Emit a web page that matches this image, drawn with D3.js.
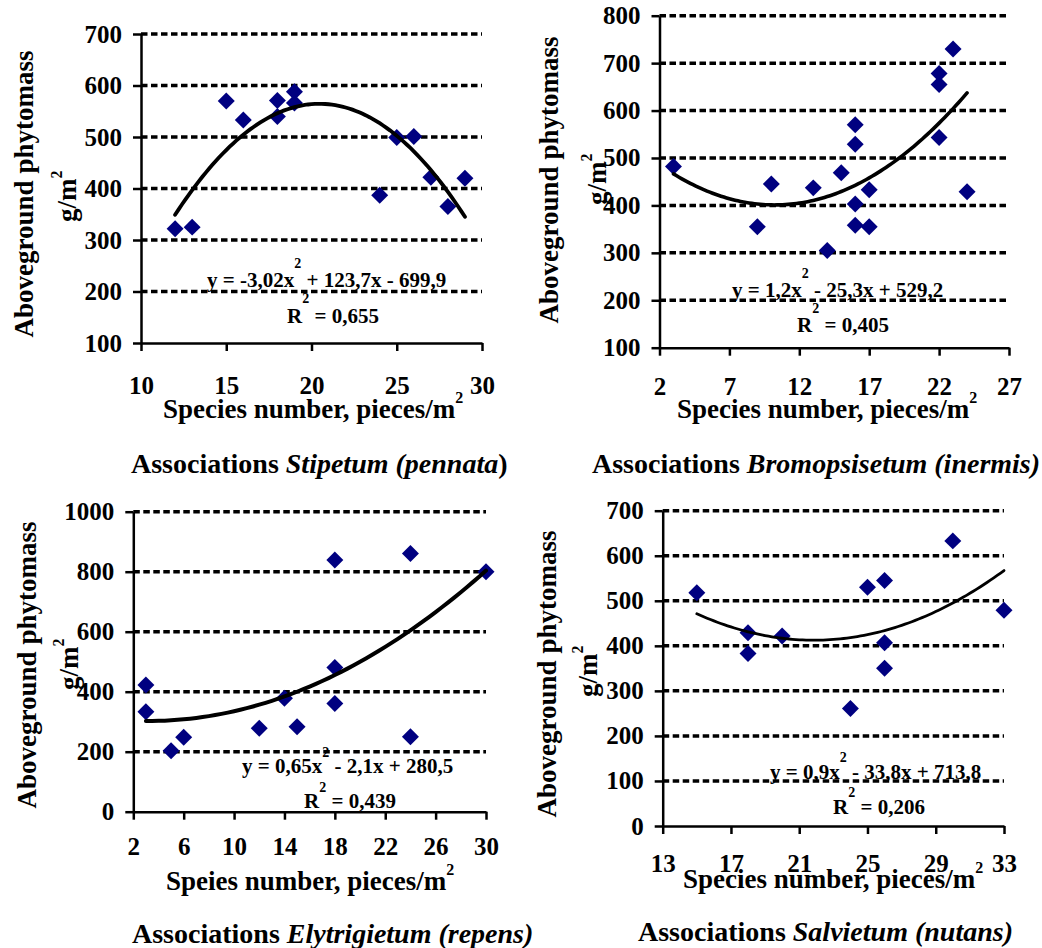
<!DOCTYPE html>
<html>
<head>
<meta charset="utf-8">
<script src="https://cdn.jsdelivr.net/npm/d3@7"></script>
<style>
  body { margin: 0; background: #fff; }
  svg text { font-family: "Liberation Serif", "Tinos", "Times New Roman", "DejaVu Serif", serif !important; font-weight: bold; fill: #000; }
</style>
</head>
<body>
<svg width="1042" height="948"></svg>
<script>
// species number vs aboveground phytomass, four associations
var stipX = [12, 13, 15, 16, 18, 18, 19, 19, 24, 25, 26, 27, 28, 29];
var stipY = [322, 325, 570, 533, 571, 540, 588, 566, 387, 499, 501, 422, 365, 420];

var bromX = [3, 9, 10, 13, 14, 15, 16, 16, 16, 16, 17, 17, 22, 22, 22, 23, 24];
var bromY = [482, 355, 445, 437, 305, 469, 570, 529, 403, 358, 433, 355, 678, 655, 543, 730, 429];

var elyX = [3, 3, 5, 6, 12, 14, 15, 18, 18, 18, 24, 24, 30];
var elyY = [422, 333, 203, 248, 278, 378, 283, 839, 481, 361, 861, 250, 800];

var salvX = [15, 18, 18, 20, 24, 25, 26, 26, 26, 30, 33];
var salvY = [518, 429, 383, 422, 261, 530, 545, 407, 350, 633, 479];

var stipXTicks = [10, 15, 20, 25, 30];
var stipYTicks = [100, 200, 300, 400, 500, 600, 700];
var bromXTicks = [2, 7, 12, 17, 22, 27];
var bromYTicks = [100, 200, 300, 400, 500, 600, 700, 800];
var elyXTicks = [2, 6, 10, 14, 18, 22, 26, 30];
var elyYTicks = [0, 200, 400, 600, 800, 1000];
var salvXTicks = [13, 17, 21, 25, 29, 33];
var salvYTicks = [0, 100, 200, 300, 400, 500, 600, 700];

// equation labels as printed: [before x^2, after x^2], R^2 value
var stipEq = ['y = -3,02x', ' + 123,7x - 699,9'], stipR2 = ' = 0,655';
var bromEq = ['y = 1,2x', ' - 25,3x + 529,2'], bromR2 = ' = 0,405';
var elyEq = ['y = 0,65x', ' - 2,1x + 280,5'], elyR2 = ' = 0,439';
var salvEq = ['y = 0,9x', ' - 33,8x + 713,8'], salvR2 = ' = 0,206';

var titles = [
  ['Associations ', 'Stipetum (pennata', ')'],
  ['Associations ', 'Bromopsisetum (inermis)', ''],
  ['Associations ', 'Elytrigietum (repens)', ''],
  ['Associations ', 'Salvietum (nutans)', '']
];
var xTitles = ['Species number, pieces/m', 'Species number, pieces/m', 'Speies number, pieces/m', 'Species number, pieces/m'];
var yTitle = 'Aboveground phytomass';

var svg = d3.select('svg');

// least squares quadratic, same as the spreadsheet trendline
function quadFit(xs, ys) {
  var s = [0, 0, 0, 0, 0], t = [0, 0, 0];
  xs.forEach(function(x, i) {
    var p = 1;
    for (var k = 0; k < 5; k++) {
      s[k] += p;
      if (k < 3) t[k] += p * ys[i];
      p *= x;
    }
  });
  var m = [[s[0], s[1], s[2], t[0]], [s[1], s[2], s[3], t[1]], [s[2], s[3], s[4], t[2]]];
  for (var c = 0; c < 3; c++) {
    for (var r = c + 1; r < 3; r++) {
      var f = m[r][c] / m[c][c];
      for (var k = c; k < 4; k++) m[r][k] -= f * m[c][k];
    }
  }
  var b = [0, 0, 0];
  for (var r = 2; r >= 0; r--) {
    var v = m[r][3];
    for (var k = r + 1; k < 3; k++) v -= m[r][k] * b[k];
    b[r] = v / m[r][r];
  }
  return b;
}

var panels = [
  {xs: stipX, ys: stipY, xTicks: stipXTicks, yTicks: stipYTicks, eq: stipEq, r2: stipR2, title: titles[0], xTitle: xTitles[0],
   left: 141, right: 482, top: 34, bottom: 343, xPad: 25, lw: 3.8,
   eqX: 207, eqY: 287, eqUp: 19, rX: 287, rY: 323, rUp: 20,
   ytX: 33, ytY: 194, gmX: 76, gmY: 222, xtX: 163, xtY: 418, tX: 131, tY: 473},
  {xs: bromX, ys: bromY, xTicks: bromXTicks, yTicks: bromYTicks, eq: bromEq, r2: bromR2, title: titles[1], xTitle: xTitles[1],
   left: 659.5, right: 1009, top: 15.7, bottom: 347.7, xPad: 22, lw: 3.6,
   eqX: 732, eqY: 297, eqUp: 19, rX: 797, rY: 332, rUp: 19,
   ytX: 558, ytY: 180, gmX: 606, gmY: 205, xtX: 677, xtY: 418, tX: 592, tY: 473},
  {xs: elyX, ys: elyY, xTicks: elyXTicks, yTicks: elyYTicks, eq: elyEq, r2: elyR2, title: titles[2], xTitle: xTitles[2],
   left: 133.3, right: 486, top: 511.7, bottom: 811.7, xPad: 18, lw: 4,
   eqX: 242, eqY: 773, eqUp: 16, rX: 304, rY: 808, rUp: 16,
   ytX: 36, ytY: 665, gmX: 78, gmY: 690, xtX: 166, xtY: 890, tX: 132, tY: 943},
  {xs: salvX, ys: salvY, xTicks: salvXTicks, yTicks: salvYTicks, eq: salvEq, r2: salvR2, title: titles[3], xTitle: xTitles[3],
   left: 662.7, right: 1004, top: 510.7, bottom: 826, xPad: 20, lw: 2.8,
   eqX: 770, eqY: 779, eqUp: 17, rX: 833, rY: 814, rUp: 17,
   ytX: 556, ytY: 674, gmX: 597, gmY: 697, xtX: 683, xtY: 888, tX: 638, tY: 941}
];

panels.forEach(function(p) {
  var g = svg.append('g');
  var x = d3.scaleLinear().domain(d3.extent(p.xTicks)).range([p.left, p.right]);
  var y = d3.scaleLinear().domain(d3.extent(p.yTicks)).range([p.bottom, p.top]);

  // dashed gridlines
  g.selectAll('.grid')
    .data(p.yTicks.slice(1))
    .enter().append('line')
    .attr('class', 'grid')
    .attr('x1', p.left).attr('x2', p.right)
    .attr('y1', function(d) { return y(d); })
    .attr('y2', function(d) { return y(d); })
    .attr('stroke', '#000')
    .attr('stroke-width', 3.5)
    .attr('stroke-dasharray', '6.5,3.5');

  // points
  g.selectAll('.pt')
    .data(d3.zip(p.xs, p.ys))
    .enter().append('path')
    .attr('class', 'pt')
    .attr('d', d3.symbol(d3.symbolSquare, 144))
    .attr('transform', function(d) { return 'translate(' + x(d[0]) + ',' + y(d[1]) + ') rotate(45)'; })
    .attr('fill', '#000080');

  // trendline
  var b = quadFit(p.xs, p.ys);
  var ext = d3.extent(p.xs);
  var xsamp = x.copy().domain(ext).ticks(80);
  if (xsamp[0] > ext[0]) xsamp.unshift(ext[0]);
  if (xsamp[xsamp.length - 1] < ext[1]) xsamp.push(ext[1]);
  g.append('path')
    .datum(xsamp)
    .attr('fill', 'none')
    .attr('stroke', '#000')
    .attr('stroke-width', p.lw)
    .attr('stroke-linecap', 'round')
    .attr('d', d3.line()
      .x(function(d) { return x(d); })
      .y(function(d) { return y(b[0] + b[1] * d + b[2] * d * d); }));

  // axes
  var ya = g.append('g')
    .attr('transform', 'translate(' + p.left + ',0)')
    .call(d3.axisLeft(y).tickValues(p.yTicks).tickFormat(d3.format('d')).tickSize(8).tickSizeOuter(0).tickPadding(11));
  var xa = g.append('g')
    .attr('transform', 'translate(0,' + p.bottom + ')')
    .call(d3.axisBottom(x).tickValues(p.xTicks).tickFormat(d3.format('d')).tickSize(8).tickSizeOuter(0).tickPadding(p.xPad));
  [ya, xa].forEach(function(a) {
    a.attr('font-family', null);
    a.select('.domain').attr('stroke-width', 2.5);
    a.selectAll('.tick line').attr('stroke-width', 2.5);
    a.selectAll('text').style('font-size', '25px');
  });

  // equation and R^2
  var eq = g.append('text').attr('x', p.eqX).attr('y', p.eqY).style('font-size', '21px');
  eq.append('tspan').text(p.eq[0]);
  eq.append('tspan').attr('dy', -p.eqUp).style('font-size', '14px').text('2');
  eq.append('tspan').attr('dy', p.eqUp).text(p.eq[1]);
  var rr = g.append('text').attr('x', p.rX).attr('y', p.rY).style('font-size', '21px');
  rr.append('tspan').text('R');
  rr.append('tspan').attr('dy', -p.rUp).style('font-size', '14px').text('2');
  rr.append('tspan').attr('dy', p.rUp).text(p.r2);

  // axis titles
  g.append('text')
    .attr('transform', 'translate(' + p.ytX + ',' + p.ytY + ') rotate(-90)')
    .attr('text-anchor', 'middle')
    .style('font-size', '27px')
    .text(yTitle);
  var gm = g.append('text')
    .attr('transform', 'translate(' + p.gmX + ',' + p.gmY + ') rotate(-90)')
    .style('font-size', '27px');
  gm.append('tspan').text('g/m');
  gm.append('tspan').attr('dy', -14).style('font-size', '16px').text('2');

  var xt = g.append('text').attr('x', p.xtX).attr('y', p.xtY).style('font-size', '27px');
  xt.append('tspan').text(p.xTitle);
  xt.append('tspan').attr('dy', -15).style('font-size', '16px').text('2');

  // association title
  var t = g.append('text').attr('x', p.tX).attr('y', p.tY).style('font-size', '28px');
  t.append('tspan').text(p.title[0]);
  t.append('tspan').style('font-style', 'italic').text(p.title[1]);
  t.append('tspan').text(p.title[2]);
});
</script>
</body>
</html>
